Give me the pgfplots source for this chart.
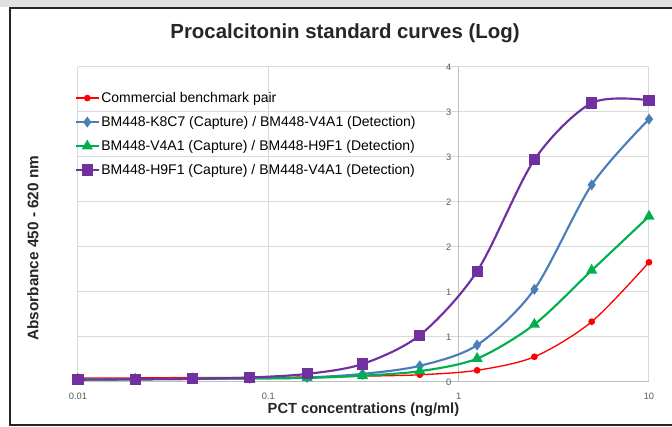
\documentclass[border=0pt]{standalone}
\usepackage{fontspec}
\setmainfont{Liberation Sans}
\usepackage{pgfplots}
\pgfplotsset{compat=1.18}
\definecolor{cred}{HTML}{FF0000}
\definecolor{cblue}{HTML}{4A7EBB}
\definecolor{cgreen}{HTML}{00B050}
\definecolor{cpurple}{HTML}{7030A0}
\definecolor{gridc}{HTML}{D9D9D9}
\definecolor{axisc}{HTML}{BFBFBF}
\definecolor{tickc}{HTML}{595959}
\begin{document}
\begin{tikzpicture}
\useasboundingbox (-58.5pt,-33.75pt) rectangle (445.5pt,286.5pt);
\fill[black!12] (-58.5pt,281pt) rectangle (445.5pt,286.5pt);
\draw[line width=1.1pt, black!85] (446pt,280.5pt) -- (-51pt,280.5pt) -- (-51pt,-32.25pt) -- (446pt,-32.25pt);
\begin{axis}[
  at={(0pt,0pt)}, anchor=south west,
  scale only axis, width=428.25pt, height=236.25pt,
  xmode=log, xmin=0.01, xmax=10, ymin=0, ymax=3.5,
  axis x line=bottom, axis y line=center,
  axis line style={draw=axisc, line width=0.75pt, -},
  hide obscured x ticks=false, hide obscured y ticks=false,
  xtick={0.01,0.1,1,10}, xticklabels={0.01,0.1,1,10},
  ytick={0,0.5,1,1.5,2,2.5,3,3.5}, yticklabels={0,1,1,2,2,3,3,4},
  xminorticks=false,
  major tick length=0pt, minor tick length=0pt,
  grid=major, grid style={gridc, line width=0.75pt},
  ticklabel style={font=\fontsize{7}{8}\selectfont, text=tickc},
  xticklabel style={yshift=-4.5pt},
  yticklabel style={xshift=-2pt},
  /pgf/number format/assume math mode=true,
  clip=false,
  legend style={draw=none, fill=none, at={(-0.006,0.93)}, anchor=north west,
    font=\fontsize{10.5}{12}\selectfont, row sep=4.9pt, inner sep=0pt,
    nodes={inner xsep=1.2pt}},
  legend cell align=left,
]
\addplot[cred, line width=1pt, smooth, mark=*, mark size=2pt] coordinates {
(0.01,0.045) (0.02,0.045) (0.04,0.05) (0.08,0.05) (0.16,0.055) (0.3125,0.065) (0.625,0.08) (1.25,0.13) (2.5,0.28) (5,0.67) (10,1.33)};
\addlegendentry{Commercial benchmark pair}
\addplot[cblue, line width=1.6pt, smooth, mark=diamond*, mark size=2.8pt] coordinates {
(0.01,0.03) (0.02,0.03) (0.04,0.035) (0.08,0.04) (0.16,0.05) (0.3125,0.09) (0.625,0.18) (1.25,0.41) (2.5,1.03) (5,2.19) (10,2.92)};
\addlegendentry{BM448-K8C7 (Capture) / BM448-V4A1 (Detection)}
\addplot[cgreen, line width=1.6pt, smooth, mark=triangle*, mark size=3.3pt] coordinates {
(0.01,0.03) (0.02,0.03) (0.04,0.035) (0.08,0.04) (0.16,0.045) (0.3125,0.07) (0.625,0.12) (1.25,0.26) (2.5,0.64) (5,1.24) (10,1.84)};
\addlegendentry{BM448-V4A1 (Capture) / BM448-H9F1 (Detection)}
\addplot[cpurple, line width=1.6pt, smooth, mark=square*, mark size=3.4pt] coordinates {
(0.01,0.025) (0.02,0.03) (0.04,0.035) (0.08,0.05) (0.16,0.09) (0.3125,0.2) (0.625,0.52) (1.25,1.23) (2.5,2.47) (5,3.10) (10,3.13)};
\addlegendentry{BM448-H9F1 (Capture) / BM448-V4A1 (Detection)}
\end{axis}
\node[font=\fontsize{15.3}{18}\selectfont\bfseries, text=black!85] at (200.25pt,261.5pt) {Procalcitonin standard curves (Log)};
\node[font=\fontsize{11}{13}\selectfont\bfseries, text=black!85] at (214.1pt,-21pt) {PCT concentrations (ng/ml)};
\node[font=\fontsize{11.5}{13}\selectfont\bfseries, text=black!85, rotate=90] at (-33.75pt,100.4pt) {Absorbance 450 - 620 nm};
\end{tikzpicture}
\end{document}
